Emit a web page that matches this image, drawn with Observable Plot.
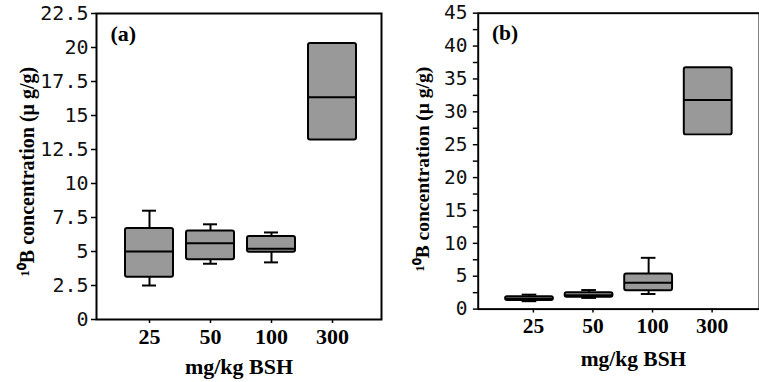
<!DOCTYPE html>
<html>
<head>
<meta charset="utf-8">
<script src="https://cdn.jsdelivr.net/npm/d3@7"></script>
<script src="https://cdn.jsdelivr.net/npm/@observablehq/plot@0.6"></script>
<style>
  html, body { margin: 0; padding: 0; background: #fff; }
  #page { position: relative; width: 759px; height: 382px; overflow: hidden; background: #fff; }
  #pa, #pb { position: absolute; top: 0; }
  #pa { left: 0; }
  #pb { left: 382px; }
</style>
</head>
<body>
<div id="page"><div id="pa"></div><div id="pb"></div></div>
<script>
// Categories
const doses = ["25", "50", "100", "300"];

// Panel (a): five-number summaries (µg/g)
const aMin = [2.5, 4.1, 4.2, 13.2];
const aQ1  = [3.1, 4.4, 4.95, 13.2];
const aMed = [5.0, 5.6, 5.2, 16.35];
const aQ3  = [6.7, 6.5, 6.1, 20.3];
const aMax = [8.0, 7.0, 6.4, 20.3];

// Panel (b)
const bMin = [1.2, 1.7, 2.3, 26.5];
const bQ1  = [1.3, 1.8, 2.8, 26.5];
const bMed = [1.6, 2.1, 4.0, 31.8];
const bQ3  = [1.9, 2.5, 5.35, 36.7];
const bMax = [2.2, 2.9, 7.8, 36.7];

// Tick values
const aTicks = [0, 2.5, 5, 7.5, 10, 12.5, 15, 17.5, 20, 22.5];
const bTicks = [0, 5, 10, 15, 20, 25, 30, 35, 40, 45];
const bMinorTicks = [2.5, 7.5, 12.5, 17.5, 22.5, 27.5, 32.5, 37.5, 42.5];

const xTitle = "mg/kg BSH";
const yTitle = "\u00B9\u2070B concentration (\u03BC g/g)";

function rows(mn, q1, md, q3, mx) {
  return doses.map((d, i) => ({dose: d, min: mn[i], q1: q1[i], med: md[i], q3: q3[i], max: mx[i]}));
}

const serif = "'Liberation Serif', 'Times New Roman', serif";
const sans = "'DejaVu Sans Mono', 'DejaVu Sans', sans-serif";

function panel(o) {
  const data = o.data;
  const upper = data.filter(d => d.max > d.q3);
  const lower = data.filter(d => d.min < d.q1);
  return Plot.plot({
    width: o.width,
    height: 382,
    marginLeft: o.mL,
    marginRight: o.mR,
    marginTop: 13,
    marginBottom: o.mB,
    style: {background: "transparent", overflow: "visible"},
    x: {type: "band", domain: doses, paddingInner: o.pi, paddingOuter: o.po, align: o.align, axis: null},
    y: {domain: [0, o.yMax], axis: null},
    marks: [
      Plot.ruleX(upper, {x: "dose", y1: "q3", y2: "max", stroke: "#000", strokeWidth: 2}),
      Plot.ruleX(lower, {x: "dose", y1: "min", y2: "q1", stroke: "#000", strokeWidth: 2}),
      Plot.tickY(upper, {x: "dose", y: "max", stroke: "#000", strokeWidth: 2, insetLeft: 17, insetRight: 17}),
      Plot.tickY(lower, {x: "dose", y: "min", stroke: "#000", strokeWidth: 2, insetLeft: 17, insetRight: 17}),
      Plot.barY(data, {x: "dose", y1: "q1", y2: "q3", fill: "#999999", stroke: "#000", strokeWidth: 2, rx: 2}),
      Plot.tickY(data, {x: "dose", y: "med", stroke: "#000", strokeWidth: 2}),
      Plot.frame({stroke: "#000", strokeWidth: 2}),
      o.minor ? Plot.axisY(o.minor, {tickSize: 5, fill: "none", label: null, stroke: "#000", strokeWidth: 1.5}) : null,
      Plot.axisY(o.yTicks, {tickSize: 5, tickPadding: o.tp, label: null, stroke: "#000", strokeWidth: 1.5,
        fontSize: 20, fontFamily: sans, fill: "#111", tickFormat: d => String(d)}),
      Plot.axisX({tickSize: 4, tickPadding: 5, label: null, stroke: "#000", strokeWidth: 1.5,
        fontSize: 22, fontFamily: serif, fontWeight: "bold", fill: "#000", dx: o.xdx}),
      Plot.text([xTitle], {frameAnchor: "bottom", lineAnchor: "middle", textAnchor: "middle", dy: o.xLabDy, dx: o.xLabDx,
        fontSize: 22, fontFamily: serif, fontWeight: "bold", fill: "#000"}),
      Plot.text([yTitle], {frameAnchor: "left", textAnchor: "middle", lineAnchor: "middle", rotate: -90, dx: o.yLabDx, dy: o.yLabDy,
        fontSize: 20, fontFamily: serif, fontWeight: "bold", fill: "#000"}),
      Plot.text([o.tag], {frameAnchor: "top-left", lineAnchor: "middle", textAnchor: "start", dx: 14, dy: 20,
        fontSize: 22, fontFamily: serif, fontWeight: "bold", fill: "#000"})
    ]
  });
}

document.getElementById("pa").append(panel({
  data: rows(aMin, aQ1, aMed, aQ3, aMax),
  width: 382, mL: 96, mR: 1, mB: 63,
  pi: 0.21, po: 0.44, align: 0.54,
  yMax: 22.5, yTicks: aTicks, minor: null, tp: 3,
  xdx: 0, xLabDy: 47, xLabDx: 0, yLabDx: -69, yLabDy: 5, tag: "(a)"
}));

document.getElementById("pb").append(panel({
  data: rows(bMin, bQ1, bMed, bQ3, bMax),
  width: 386, mL: 98, mR: 0, mB: 66,
  pi: 0.2, po: 0.434, align: 0.5,
  yMax: 45, yTicks: bTicks, minor: bMinorTicks, tp: 6,
  xdx: 4, xLabDy: 51, xLabDx: 15, yLabDx: -57, yLabDy: 8, tag: "(b)"
}));
</script>
</body>
</html>
